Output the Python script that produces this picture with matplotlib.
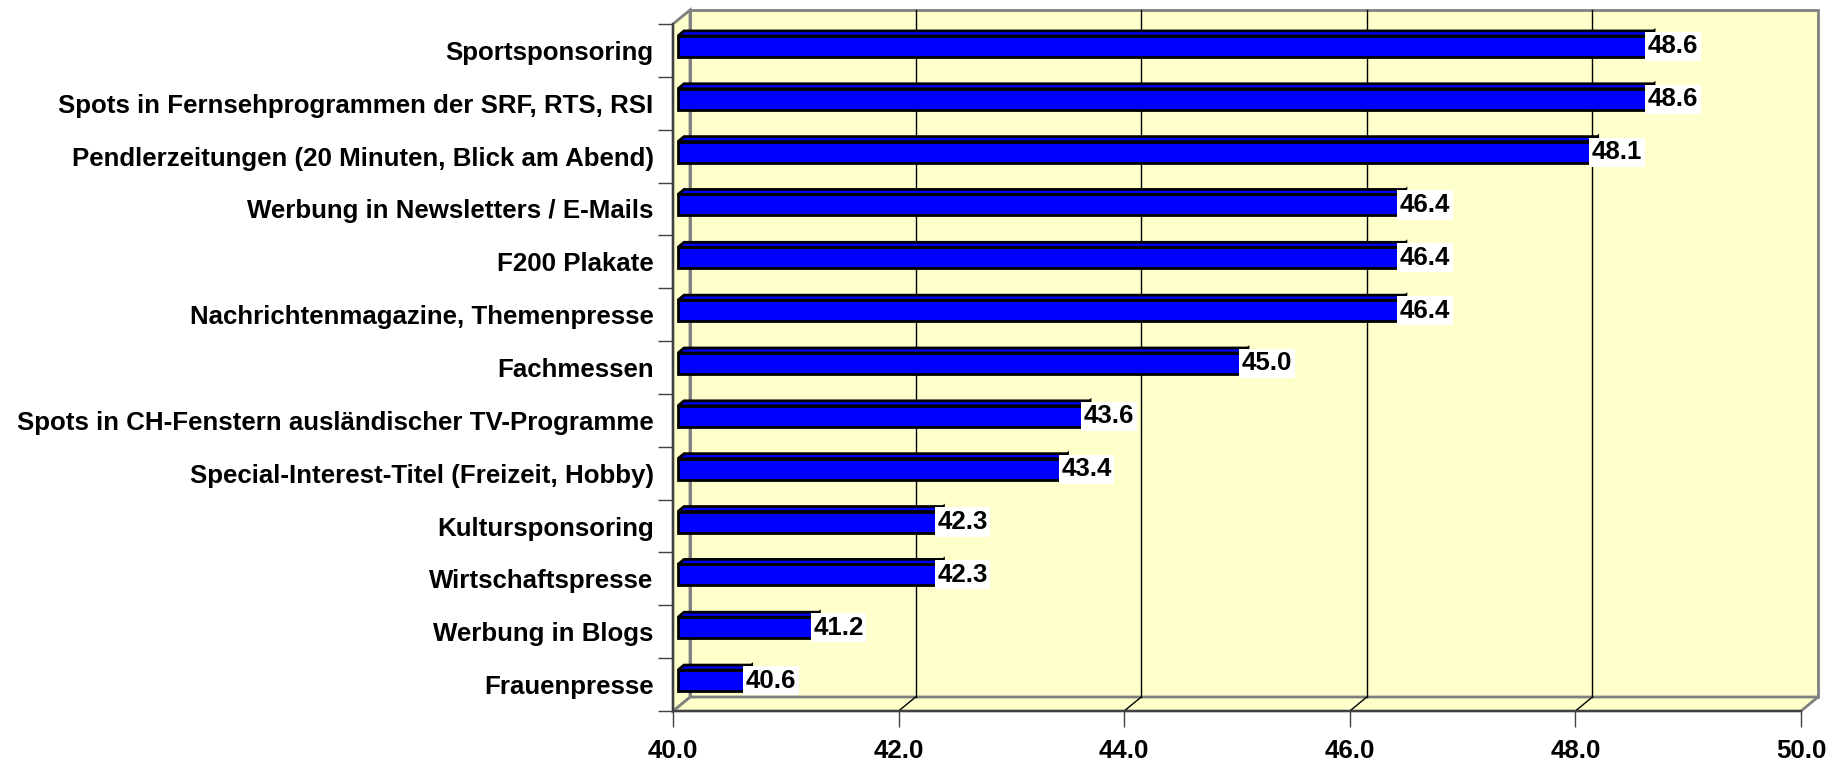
import matplotlib.pyplot as plt
import numpy as np
from matplotlib.patches import Rectangle, Polygon

plt.rcParams['font.family'] = ['Liberation Sans', 'DejaVu Sans']
plt.rcParams['font.weight'] = 'bold'
plt.rcParams['font.size'] = 18.6

# data (top to bottom)
categories = [
    'Sportsponsoring',
    'Spots in Fernsehprogrammen der SRF, RTS, RSI',
    'Pendlerzeitungen (20 Minuten, Blick am Abend)',
    'Werbung in Newsletters / E-Mails',
    'F200 Plakate',
    'Nachrichtenmagazine, Themenpresse',
    'Fachmessen',
    'Spots in CH-Fenstern ausländischer TV-Programme',
    'Special-Interest-Titel (Freizeit, Hobby)',
    'Kultursponsoring',
    'Wirtschaftspresse',
    'Werbung in Blogs',
    'Frauenpresse',
]
values = [48.6, 48.6, 48.1, 46.4, 46.4, 46.4, 45.0, 43.6, 43.4, 42.3, 42.3, 41.2, 40.6]
x_ticks = [40, 42, 44, 46, 48, 50]

W, H = 1843, 766
fig = plt.figure(figsize=(W / 100, H / 100), dpi=100)
ax = fig.add_axes([673 / W, 55 / H, 1128 / W, 687 / H])

xmin, xmax = 40, 50
n = len(categories)
ymin, ymax = -0.5, n - 0.5
ax.set_xlim(xmin, xmax)
ax.set_ylim(ymin, ymax)
ax.set_facecolor('none')

# pixel -> data units
px_x = (xmax - xmin) / 1128
px_y = (ymax - ymin) / 687
DX, DY = 17 * px_x, 14 * px_y          # depth of the 3d box
fx, fy = 5 * px_x, 4 * px_y            # bar front face offset
sx, sy = 6 * px_x, 5 * px_y            # bar depth
bh = 21 * px_y                         # bar thickness

wall = '#FFFFCC'
edge = '#808080'

# walls
ax.add_patch(Rectangle((xmin + DX, ymin + DY), xmax - xmin, ymax - ymin,
                       facecolor=wall, edgecolor=edge, lw=2, zorder=0, clip_on=False))
ax.add_patch(Polygon([(xmin, ymin), (xmax, ymin), (xmax + DX, ymin + DY), (xmin + DX, ymin + DY)],
                     closed=True, facecolor=wall, edgecolor=edge, lw=2, zorder=0, clip_on=False))
ax.add_patch(Polygon([(xmin, ymin), (xmin + DX, ymin + DY), (xmin + DX, ymax + DY), (xmin, ymax)],
                     closed=True, facecolor=wall, edgecolor=edge, lw=2, zorder=0, clip_on=False))

# grid lines on back wall and floor
for xv in x_ticks[1:-1]:
    ax.plot([xv + DX, xv + DX], [ymin + DY, ymax + DY], color='black', lw=1, zorder=1, clip_on=False)
    ax.plot([xv, xv + DX], [ymin, ymin + DY], color='black', lw=1, zorder=1, clip_on=False)

# bars
ypos = np.arange(n)[::-1]
ax.barh(ypos + fy, np.array(values) - xmin, left=xmin + fx, height=bh,
        color='#0000FF', edgecolor='black', lw=2, zorder=3, clip_on=False)
for y, v in zip(ypos, values):
    x0, x1 = xmin + fx, v + fx
    yb, yt = y + fy - bh / 2, y + fy + bh / 2
    ax.add_patch(Polygon([(x0, yt), (x1, yt), (x1 + sx, yt + sy), (x0 + sx, yt + sy)],
                         closed=True, facecolor='#0000FF', edgecolor='black', lw=2,
                         zorder=3, clip_on=False))
    ax.add_patch(Polygon([(x1, yb), (x1, yt), (x1 + sx, yt + sy), (x1 + sx, yb + sy)],
                         closed=True, facecolor='#0000CC', edgecolor='black', lw=2,
                         zorder=3, clip_on=False))
    ax.text(x1, y + fy, f'{v:.1f}', ha='left', va='center', fontsize=18.6, fontweight='bold',
            zorder=4, bbox=dict(boxstyle='square,pad=0.1', facecolor='white', edgecolor='none'))

# axes
for s in ['top', 'right']:
    ax.spines[s].set_visible(False)
for s in ['left', 'bottom']:
    ax.spines[s].set_color('#404040')
    ax.spines[s].set_linewidth(1.5)
    ax.spines[s].set_zorder(2)

ax.set_xticks(x_ticks)
ax.set_xticklabels([f'{t:.1f}' for t in x_ticks])
ax.tick_params(axis='x', direction='out', length=11.5, width=1, color='#404040', pad=9)

ax.set_yticks(ypos)
ax.set_yticklabels(categories)
ax.set_yticks(np.arange(n + 1) - 0.5, minor=True)
ax.tick_params(axis='y', which='major', length=0, pad=14)
ax.tick_params(axis='y', which='minor', direction='out', length=11, width=1, color='#404040')

for lbl in ax.get_xticklabels() + ax.get_yticklabels():
    lbl.set_fontweight('bold')

fig.savefig('out.png', dpi=100)
